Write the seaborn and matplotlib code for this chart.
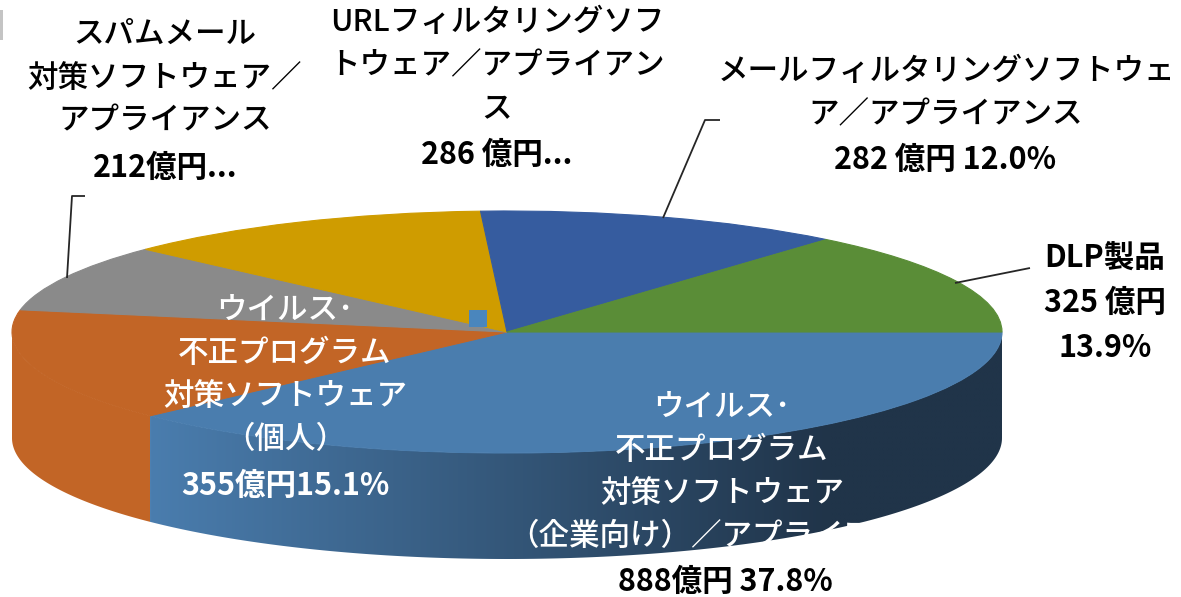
import numpy as np
import matplotlib
matplotlib.use("Agg")
import matplotlib.pyplot as plt
from matplotlib.patches import Polygon, Rectangle
from matplotlib.colors import to_rgb
import seaborn as sns

sns.set_theme(style="white")
plt.rcParams["font.family"] = ["Noto Sans CJK JP", "DejaVu Sans"]

# --- data ---
categories = [
    "ウイルス・不正プログラム対策ソフトウェア（企業向け）／アプライアンス",
    "ウイルス・不正プログラム対策ソフトウェア（個人）",
    "スパムメール対策ソフトウェア／アプライアンス",
    "URLフィルタリングソフトウェア／アプライアンス",
    "メールフィルタリングソフトウェア／アプライアンス",
    "DLP製品",
]
values = [888, 355, 212, 286, 282, 325]
face_colors = ["#4a7dae", "#c26526", "#8a8a8a", "#cf9c00", "#365c9f", "#5a8d37"]

label_enterprise = "ウイルス･\n不正プログラム\n対策ソフトウェア\n（企業向け）／アプライアンス"
value_enterprise = "888億円 37.8%"
label_personal = "ウイルス･\n不正プログラム\n対策ソフトウェア\n（個人）"
value_personal = "355億円15.1%"
label_spam = "スパムメール\n対策ソフトウェア／\nアプライアンス"
value_spam = "212億円..."
label_url = "URLフィルタリングソフ\nトウェア／アプライアン\nス"
value_url = "286 億円..."
label_mail = "メールフィルタリングソフトウェ\nア／アプライアンス"
value_mail = "282 億円 12.0%"
label_dlp = "DLP製品\n325 億円\n13.9%"

# --- geometry in reference pixels ---
W, H = 1181, 597
CX, CY, RX, RY, DEPTH = 507, 332, 495, 121, 106

fig = plt.figure(figsize=(W / 100, H / 100), dpi=100, facecolor="white")
ax = fig.add_axes([0, 0, 1, 1])


def to_data(px, py):
    return (px - CX) / RX, (CY - py) / RY


palette = sns.color_palette(face_colors)
d = DEPTH / RY
bounds = -np.concatenate([[0], np.cumsum(values)]) / np.sum(values) * 360.0


def wall(a0, a1):
    th = np.radians(np.linspace(a0, max(a1, -180), 200))
    top = np.c_[np.cos(th), np.sin(th)]
    bot = top[::-1] - [0, d]
    return np.vstack([top, bot])


wedges, _ = ax.pie(values, colors=palette, startangle=0, counterclock=False, radius=1,
                   wedgeprops=dict(linewidth=0.8, zorder=3), frame=True)
for w in wedges:
    w.set_edgecolor(w.get_facecolor())
ax.set_aspect("auto")

# side walls
blue_wall = wall(bounds[0], bounds[1])
orange_wall = wall(bounds[1], bounds[2])
ax.add_patch(Polygon(orange_wall, closed=True, fc=palette[1], ec="none", zorder=1))

x0, x1 = blue_wall[:, 0].min(), blue_wall[:, 0].max()
xs = np.linspace(x0, x1, 256)
t = np.clip((xs - x0) / (to_data(830, 0)[0] - x0), 0, 1)
c0, c1 = np.array(to_rgb(face_colors[0])), np.array(to_rgb("#203449"))
grad = (c0[None, :] * (1 - t[:, None]) + c1[None, :] * t[:, None])[None, :, :]
im = ax.imshow(grad, extent=(x0, x1, -1 - d, 1), aspect="auto", origin="lower",
               zorder=1.5, interpolation="bilinear")
clip = Polygon(blue_wall, closed=True, transform=ax.transData, fc="none", ec="none")
ax.add_patch(clip)
im.set_clip_path(clip)

ax.set_xlim(to_data(0, 0)[0], to_data(W, 0)[0])
ax.set_ylim(to_data(0, H)[1], to_data(0, 0)[1])
ax.set_axis_off()

# leader lines
for pts in ([(67, 278), (72, 196), (85, 196)],
            [(663, 218), (705, 120), (720, 120)],
            [(955, 283), (1030, 268)]):
    xy = np.array([to_data(*p) for p in pts])
    ax.plot(xy[:, 0], xy[:, 1], color="#262626", lw=1.3, zorder=4, solid_capstyle="butt")

# small marker and corner sliver
fig.add_artist(Rectangle((469 / W, 1 - 327 / H), 18 / W, 17 / H, transform=fig.transFigure,
                         fc="#4a86bd", ec="none", zorder=5))
fig.add_artist(Rectangle((0, 1 - 40 / H), 3 / W, 30 / H, transform=fig.transFigure,
                         fc="#c4c4c4", ec="none", zorder=5))


def put(s, x, y, color="black", weight="medium", fs=22, ls=1.51):
    ax.text(*to_data(x, y), s, color=color, fontsize=fs, fontweight=weight,
            ha="center", va="center", linespacing=ls, zorder=6)


put(label_spam, 165, 78)
put(value_spam, 165, 168, weight="bold")
put(label_url, 497, 66)
put(value_url, 497, 155, weight="bold")
put(label_mail, 946, 93)
put(value_mail, 945, 160, weight="bold")
put(label_dlp, 1105, 303, weight="bold")
put(label_personal, 285, 375, color="white")
put(value_personal, 285, 486, color="white", weight="bold")
put(label_enterprise, 722, 472, color="white")
put(value_enterprise, 725, 582, weight="bold")

fig.savefig("out.png", dpi=100, facecolor="white")
